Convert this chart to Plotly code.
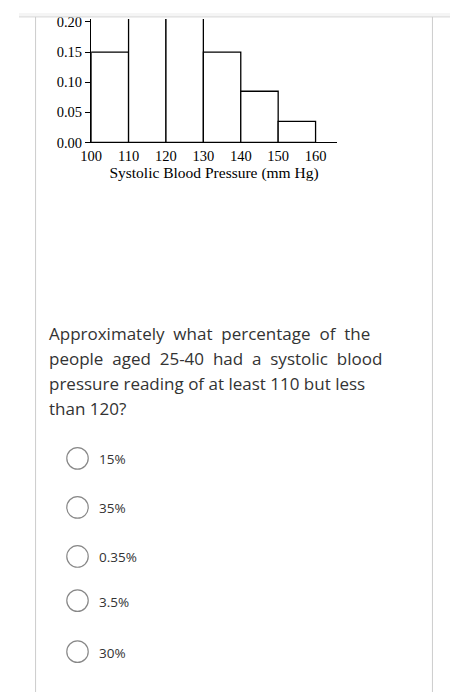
import plotly.graph_objects as go

bin_left = [100, 110, 120, 130, 140, 150]
rel_freq = [0.15, 0.35, 0.23, 0.15, 0.085, 0.035]
y_ticks = [0.00, 0.05, 0.10, 0.15, 0.20]
x_ticks = [100, 110, 120, 130, 140, 150, 160]
question = ["Approximately  what  percentage  of  the",
            "people  aged  25-40  had  a  systolic  blood",
            "pressure reading of at least 110 but less",
            "than 120?"]
options = ["15%", "35%", "0.35%", "3.5%", "30%"]
opt_y = [462, 512, 562, 607, 659]

OFF = 8
W, H = 458 - 2 * OFF, 700 - 2 * OFF
def px(x): return (x - OFF) / W
def py(y): return 1 - (y - OFF) / H

fig = go.Figure()
fig.add_trace(go.Bar(x=[b + 5 for b in bin_left], y=rel_freq, width=10,
                     marker=dict(color="white", line=dict(color="black", width=1.3)),
                     hoverinfo="skip"))
serif = dict(family="Liberation Serif, Times New Roman, serif", color="black", size=14.5)
fig.update_layout(
    width=W, height=H, margin=dict(l=0, r=0, t=0, b=0),
    paper_bgcolor="white", plot_bgcolor="white", showlegend=False,
    xaxis=dict(domain=[px(82), px(334)], range=[100, 165.7], tickvals=x_ticks,
               ticks="", showgrid=False, zeroline=False, showline=True,
               linecolor="black", linewidth=1.3, tickfont=serif,
               title=dict(text="Systolic Blood Pressure (mm Hg)",
                          font=dict(family=serif["family"], color="black", size=15.5), standoff=2)),
    yaxis=dict(domain=[py(140), py(14)], range=[0, 0.205], tickvals=y_ticks,
               tickformat=".2f", ticks="outside", ticklen=5, tickcolor="black",
               showgrid=False, zeroline=False, showline=True, linecolor="black",
               linewidth=1.3, tickfont=serif),
)
shapes = [
    dict(type="rect", xref="paper", yref="paper", x0=0, x1=1, y0=py(12), y1=1,
         fillcolor="#f5f5f5", line=dict(width=0), layer="above"),
    dict(type="line", xref="paper", yref="paper", x0=0, x1=1, y0=py(12), y1=py(12),
         line=dict(color="#d8d8d8", width=1)),
    dict(type="line", xref="paper", yref="paper", x0=px(25), x1=px(25), y0=-0.02, y1=py(12),
         line=dict(color="#cccccc", width=1)),
    dict(type="line", xref="paper", yref="paper", x0=px(432), x1=px(432), y0=-0.02, y1=py(12),
         line=dict(color="#cccccc", width=1)),
]
for y in opt_y:
    shapes.append(dict(type="circle", xref="paper", yref="paper",
                       x0=px(57), x1=px(79), y0=py(y + 11), y1=py(y - 11),
                       line=dict(color="#888", width=1.2), fillcolor="white"))
fig.update_layout(shapes=shapes)

ann = []
for i, line in enumerate(question):
    ann.append(dict(text=line, x=px(37), y=py(335 + i * 25.3), xref="paper", yref="paper",
                    xanchor="left", yanchor="middle", showarrow=False,
                    font=dict(family="Open Sans", size=17, color="#333")))
for t, y in zip(options, opt_y):
    ann.append(dict(text=t, x=px(88), y=py(y + 1), xref="paper", yref="paper",
                    xanchor="left", yanchor="middle", showarrow=False,
                    font=dict(family="Open Sans", size=13.5, color="#333")))
fig.update_layout(annotations=ann)
fig.write_html("out.html")
